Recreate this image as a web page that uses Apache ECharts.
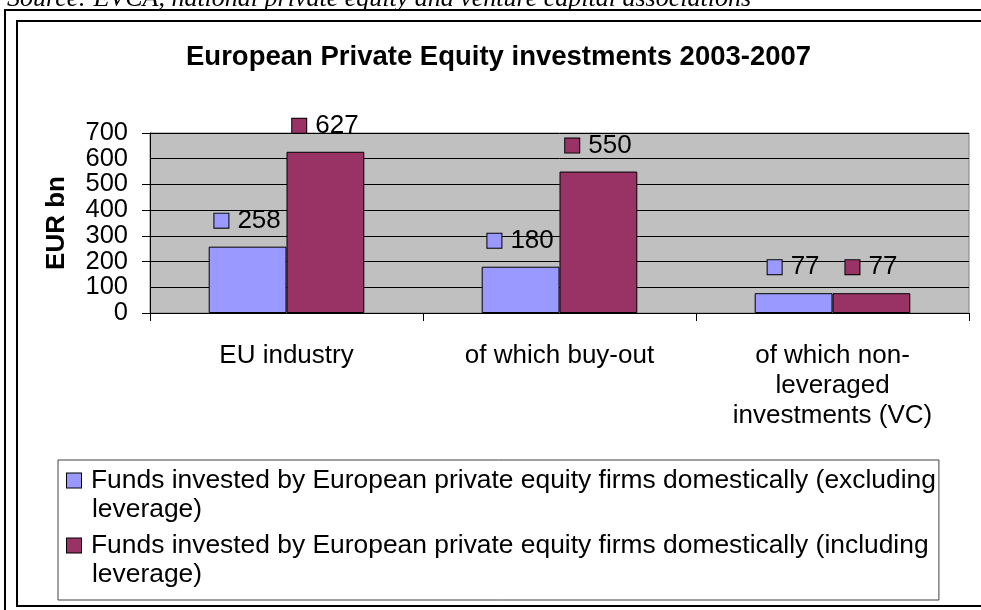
<!DOCTYPE html>
<html>
<head>
<meta charset="utf-8">
<title>European Private Equity investments 2003-2007</title>
<script src="https://cdn.jsdelivr.net/npm/echarts@6/dist/echarts.min.js"></script>
<style>
  html, body { margin: 0; padding: 0; background: #fff; }
  #chartBox { width: 981px; height: 610px; }
</style>
</head>
<body>
<div id="chartBox"></div>
<script>
// data
const categories = ['EU industry', 'of which buy-out', 'of which non-\nleveraged\ninvestments (VC)'];
const seriesNames = [
  'Funds invested by European private equity firms domestically (excluding leverage)',
  'Funds invested by European private equity firms domestically (including leverage)'
];
const excludingLeverage = [258, 180, 77];
const includingLeverage = [627, 550, 77];
const yMin = 0, yMax = 700, yStep = 100;
const seriesColors = ['#9999FF', '#993366'];

const FONT = 'Arial, "Liberation Sans", sans-serif';

// little coloured squares used in the value labels and legend
const markerRich = {};
seriesColors.forEach((c, i) => {
  markerRich['m' + i] = { width: 14, height: 14, backgroundColor: c, borderColor: '#000', borderWidth: 1 };
});

function valueLabel(p) {
  return '{m' + p.seriesIndex + '|}{g|}{v|' + p.value + '}';
}

function legendText(name) {
  const idx = seriesNames.indexOf(name);
  const cut = name.lastIndexOf(' ');
  return '{m' + idx + '|}{g|}' + name.slice(0, cut) + '\n{s|}' + name.slice(cut + 1);
}

const yLabelStyle = { margin: 22, fontFamily: FONT, fontSize: 25.5, color: '#000' };

const myChart = echarts.init(document.getElementById('chartBox'));
const option = {
  backgroundColor: '#fff',
  animation: false,
  title: {
    text: 'European Private Equity investments 2003-2007',
    left: 186,
    top: 43,
    padding: 0,
    textStyle: { fontFamily: FONT, fontSize: 27.5, fontWeight: 'bold', color: '#000' }
  },
  graphic: [
    { type: 'rect', shape: { x: 5, y: 10, width: 1100, height: 1100 }, style: { fill: null, stroke: '#000', lineWidth: 2 }, silent: true },
    { type: 'rect', shape: { x: 17, y: 21, width: 1100, height: 585 }, style: { fill: null, stroke: '#000', lineWidth: 2 }, silent: true },
    {
      type: 'text', left: 7, top: -14, silent: true,
      style: {
        text: 'Source: EVCA, national private equity and venture capital associations',
        font: 'italic 26px "Liberation Serif", "Times New Roman", serif',
        fill: '#000'
      }
    }
  ],
  legend: {
    orient: 'vertical',
    left: 58,
    top: 460,
    icon: 'none',
    itemWidth: 0,
    itemHeight: 15,
    itemGap: 7,
    padding: [6, 3, 11, 4],
    backgroundColor: '#fff',
    borderColor: '#404040',
    borderWidth: 1,
    selectedMode: false,
    data: seriesNames,
    formatter: legendText,
    textStyle: {
      fontFamily: FONT, fontSize: 26.4, lineHeight: 29, color: '#000',
      rich: Object.assign({ g: { width: 10 }, s: { width: 25 } }, markerRich)
    }
  },
  grid: {
    show: true,
    left: 150,
    right: 12,
    top: 133,
    bottom: 297,
    containLabel: false,
    outerBoundsMode: 'none',
    backgroundColor: '#C0C0C0',
    borderColor: '#808080',
    borderWidth: 1
  },
  xAxis: {
    type: 'category',
    data: categories,
    axisLine: { show: true, lineStyle: { color: '#000', width: 1 } },
    axisTick: { show: true, length: 8, alignWithLabel: false, lineStyle: { color: '#000' } },
    axisLabel: { interval: 0, margin: 28, fontFamily: FONT, fontSize: 26, lineHeight: 30, color: '#000' },
    splitLine: { show: false }
  },
  yAxis: [
    {
      type: 'value',
      min: yMin,
      max: yMax,
      interval: yStep,
      name: 'EUR bn',
      nameLocation: 'middle',
      nameGap: 80,
      nameMoveOverlap: false,
      nameTextStyle: { fontFamily: FONT, fontSize: 26, fontWeight: 'bold', color: '#000' },
      axisLine: { show: true, lineStyle: { color: '#000', width: 1 } },
      axisTick: { show: true, length: 8, lineStyle: { color: '#000' } },
      axisLabel: Object.assign({ showMinLabel: true, showMaxLabel: true }, yLabelStyle),
      splitLine: { show: true, lineStyle: { color: '#000', width: 1 } }
    },
    {
      // same scale again, only to print the labels next to min and max
      // which the first axis drops because the labels are tall
      type: 'value',
      position: 'left',
      min: yMin,
      max: yMax,
      interval: yStep,
      axisLine: { show: false },
      axisTick: { show: false },
      splitLine: { show: false },
      axisLabel: Object.assign({
        showMinLabel: false,
        showMaxLabel: false,
        formatter: v => (v === yMin + yStep || v === yMax - yStep) ? String(v) : ''
      }, yLabelStyle)
    }
  ],
  series: [excludingLeverage, includingLeverage].map((vals, i) => ({
    name: seriesNames[i],
    type: 'bar',
    data: vals,
    yAxisIndex: 0,
    barGap: '0%',
    barCategoryGap: '43%',
    itemStyle: { color: seriesColors[i], borderColor: '#000', borderWidth: 1 },
    emphasis: { disabled: true },
    label: {
      show: true,
      position: 'top',
      distance: 13,
      formatter: valueLabel,
      fontFamily: FONT,
      fontSize: 26,
      color: '#000',
      rich: Object.assign({ g: { width: 9 }, v: { fontFamily: FONT, fontSize: 26, color: '#000' } }, markerRich)
    }
  }))
};
myChart.setOption(option, true);
</script>
</body>
</html>
